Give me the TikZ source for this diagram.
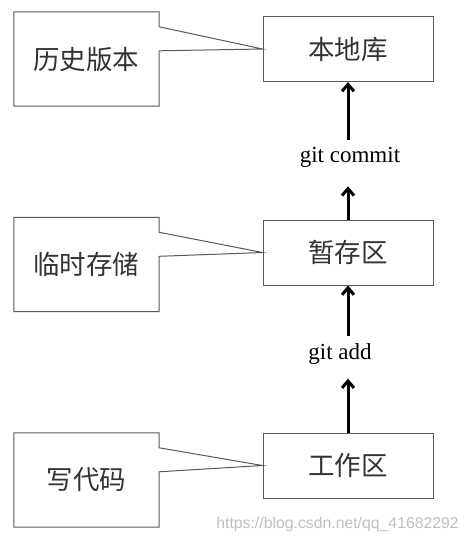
\documentclass[tikz,border=0pt]{standalone}
\usepackage{fontspec}
\setmainfont{Liberation Serif}
\newfontfamily\cjk{Noto Sans CJK SC}
\newfontfamily\marksans{Liberation Sans}
\usetikzlibrary{arrows.meta}

\begin{document}
\begin{tikzpicture}[x=1pt, y=-1pt,
  area/.style={draw=black!65, line width=1pt, minimum width=170pt, minimum height=65pt, inner sep=0pt, text=black!80, font=\cjk\fontsize{26.5}{26.5}\selectfont},
  note/.style={minimum width=145pt, minimum height=94pt, inner sep=0pt, text=black!80, font=\cjk\fontsize{26.5}{26.5}\selectfont},
  callout/.style={draw=black!65, line width=1pt, line join=miter},
  push/.style={line width=3pt, -{Straight Barb[length=7pt,width=12pt]}},
  cmd/.style={inner sep=0pt, font=\fontsize{23}{23}\selectfont}]

\useasboundingbox (0,0) rectangle (469,542);

% right column
\node[area] (repo) at (348,49) {本地库};
\node[area] (index) at (348,252.5) {暂存区};
\node[area] (work) at (348,465.5) {工作区};

% left column
\node[note] (history) at (86.5,59) {历史版本};
\node[note] (temp) at (86.5,264.5) {临时存储};
\node[note] (code) at (86.5,480) {写代码};

\node[cmd] (commit) at (350,157) {git commit};
\node[cmd] (add) at (340,354) {git add};

\draw[push, shorten <=7pt] (commit.north -| repo) -- (repo);
\draw[push, shorten >=19pt] (index) -- (commit.south -| index);
\draw[push, shorten <=7pt] (add.north -| index) -- (index);
\draw[push, shorten >=14pt] (work) -- (add.south -| work);

\foreach \n/\m in {history/repo, temp/index, code/work}
  \draw[callout] ([yshift=-15pt]\n.north east) -- (\n.north east) -- (\n.north west) -- (\n.south west) -- (\n.south east) -- ([yshift=-39pt]\n.north east) -- (\m.west) -- cycle;

\node[font=\marksans\fontsize{15.8}{16}\selectfont, text=black!25, anchor=east, inner sep=0pt] (mark) at (459,524) {https://blog.csdn.net/qq\_41682292};

\end{tikzpicture}
\end{document}
